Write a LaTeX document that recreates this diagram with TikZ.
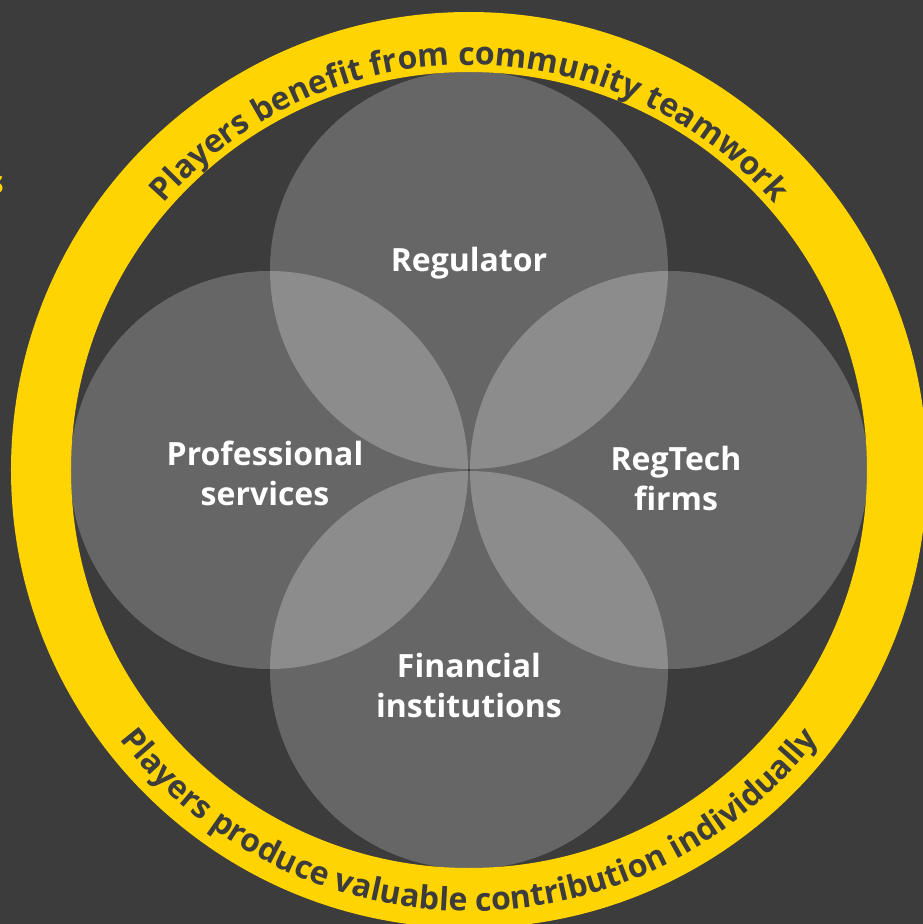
\documentclass[tikz,border=0pt]{standalone}
\usepackage{fontspec}
\setmainfont{Open Sans}
\usetikzlibrary{decorations.text}
\definecolor{bgdark}{HTML}{3C3C3C}
\definecolor{ringyellow}{HTML}{FFD400}
\definecolor{discgray}{HTML}{666666}
\definecolor{lensgray}{HTML}{8C8C8C}
\newcommand{\labelfont}{\bfseries\fontsize{32}{40}\selectfont}
\newcommand{\ringfont}{\bfseries\fontsize{32}{32}\selectfont}

\begin{document}
\begin{tikzpicture}[x=1pt, y=1pt,
  disc/.style={fill=discgray},
  lens/.style={fill=lensgray},
  player/.style={text=white, align=center, font=\labelfont, inner sep=0.75pt}]
\useasboundingbox (-469, -454) rectangle (454, 470);
\clip (-469, -454) rectangle (454, 470);
\fill [bgdark] (-469, -454) rectangle (454, 470);
% circles
\coordinate (T) at (0, 200);
\coordinate (L) at (-200, 0);
\coordinate (R) at (200, 0);
\coordinate (B) at (0, -200);
\foreach \c in {T, L, R, B} {
  \fill [disc] (\c) circle (199);
}
% overlaps
\foreach \a/\b in {T/L, T/R, B/L, B/R} {
  \begin{scope}
    \clip (\a) circle (199);
    \fill [lens] (\b) circle (199);
  \end{scope}
}
% ring
\fill [ringyellow, even odd rule] (0, 0) circle (458) (0, 0) circle (398);
\path [decorate, decoration={text along path, text align=center, text color=bgdark,
  text={|\ringfont|Players benefit from community teamwork}}]
  (180:405) arc [start angle=180, end angle=0, radius=405];
\path [decorate, decoration={text along path, text align=center, text color=bgdark,
  text={|\ringfont|Players produce valuable contribution individually}}]
  (180:441) arc [start angle=180, end angle=360, radius=441];
%Text
\node [player] (regulator) at (0, 207) {Regulator};
\node [player] (professional) at (-204, -3) {Professional\\services};
\node [player] (regtech) at (207, -8) {RegTech\\firms};
\node [player] (financial) at (0, -215) {Financial\\institutions};
\node [text=ringyellow, font=\labelfont, anchor=east, inner sep=0pt] (cut) at (-465, 285) {s};
\end{tikzpicture}
\end{document}
